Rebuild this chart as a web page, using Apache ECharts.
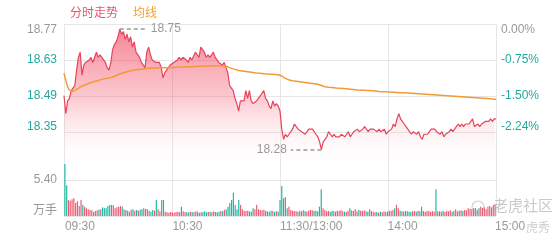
<!DOCTYPE html>
<html>
<head>
<meta charset="utf-8">
<script src="https://cdn.jsdelivr.net/npm/echarts@6/dist/echarts.min.js"></script>
<style>html,body{margin:0;padding:0;background:#fff}#c{width:560px;height:240px}</style>
</head>
<body>
<div id="c"></div>
<script>
const PRE = 18.77;
const price = [
18.49,18.42,18.47,18.48,18.51,18.52,18.53,18.59,18.64,18.66,
18.57,18.61,18.62,18.62,18.63,18.64,18.62,18.62,18.66,18.64,
18.65,18.64,18.63,18.62,18.60,18.59,18.62,18.67,18.69,18.70,
18.72,18.75,18.73,18.74,18.71,18.73,18.70,18.72,18.68,18.70,
18.66,18.66,18.64,18.62,18.62,18.60,18.66,18.68,18.65,18.63,
18.63,18.62,18.62,18.62,18.60,18.56,18.58,18.59,18.60,18.61,
18.61,18.62,18.62,18.63,18.64,18.63,18.64,18.64,18.63,18.62,
18.64,18.63,18.63,18.66,18.65,18.64,18.68,18.67,18.66,18.64,
18.65,18.64,18.64,18.66,18.64,18.63,18.62,18.62,18.61,18.62,
18.60,18.58,18.53,18.52,18.51,18.48,18.46,18.43,18.47,18.47,
18.47,18.51,18.48,18.51,18.47,18.46,18.46,18.47,18.48,18.49,
18.50,18.51,18.48,18.47,18.45,18.44,18.47,18.45,18.46,18.45,
18.43,18.36,18.32,18.34,18.33,18.34,18.34,18.36,18.38,18.38,
18.36,18.36,18.35,18.35,18.34,18.35,18.36,18.36,18.36,18.35,
18.34,18.33,18.31,18.28,18.31,18.31,18.33,18.35,18.34,18.33,
18.34,18.33,18.33,18.33,18.34,18.34,18.33,18.34,18.35,18.33,
18.34,18.35,18.35,18.36,18.35,18.35,18.36,18.37,18.36,18.35,
18.36,18.36,18.36,18.36,18.35,18.36,18.35,18.35,18.36,18.34,
18.35,18.35,18.36,18.38,18.37,18.40,18.42,18.40,18.40,18.38,
18.37,18.36,18.35,18.34,18.35,18.35,18.34,18.35,18.33,18.32,
18.34,18.34,18.34,18.35,18.36,18.36,18.36,18.35,18.35,18.34,
18.35,18.33,18.34,18.34,18.35,18.36,18.35,18.36,18.36,18.38,
18.37,18.38,18.37,18.38,18.38,18.38,18.39,18.40,18.37,18.37,
18.38,18.37,18.38,18.38,18.39,18.39,18.39,18.40,18.39,18.40,18.40
];
const avg = [
18.578,18.550,18.525,18.512,18.508,18.507,18.510,18.515,18.520,18.524,
18.528,18.531,18.533,18.536,18.539,18.542,18.544,18.546,18.548,18.550,
18.552,18.554,18.555,18.557,18.558,18.559,18.561,18.563,18.566,18.569,
18.572,18.575,18.578,18.580,18.582,18.584,18.586,18.588,18.590,18.591,
18.592,18.593,18.593,18.594,18.594,18.595,18.596,18.597,18.597,18.598,
18.598,18.598,18.599,18.599,18.599,18.599,18.599,18.599,18.600,18.600,
18.600,18.600,18.601,18.601,18.601,18.602,18.602,18.602,18.603,18.603,
18.603,18.603,18.604,18.604,18.604,18.605,18.605,18.605,18.606,18.606,
18.606,18.606,18.606,18.607,18.607,18.607,18.607,18.607,18.607,18.606,
18.605,18.603,18.600,18.597,18.595,18.593,18.591,18.589,18.588,18.587,
18.586,18.585,18.584,18.583,18.582,18.581,18.580,18.579,18.578,18.578,
18.577,18.576,18.576,18.575,18.574,18.574,18.573,18.573,18.572,18.572,
18.571,18.567,18.562,18.558,18.555,18.552,18.550,18.549,18.548,18.547,
18.546,18.545,18.544,18.543,18.542,18.541,18.540,18.539,18.538,18.537,
18.536,18.535,18.533,18.530,18.527,18.525,18.524,18.523,18.522,18.522,
18.521,18.520,18.519,18.519,18.518,18.518,18.517,18.517,18.516,18.516,
18.515,18.515,18.514,18.513,18.513,18.512,18.512,18.512,18.511,18.511,
18.510,18.510,18.509,18.509,18.508,18.507,18.507,18.506,18.506,18.506,
18.505,18.505,18.505,18.504,18.504,18.503,18.503,18.502,18.502,18.502,
18.501,18.501,18.500,18.500,18.500,18.499,18.499,18.498,18.498,18.497,
18.497,18.496,18.496,18.495,18.495,18.494,18.494,18.493,18.493,18.492,
18.492,18.491,18.491,18.490,18.490,18.489,18.489,18.488,18.488,18.487,
18.487,18.486,18.486,18.485,18.485,18.484,18.484,18.483,18.483,18.482,
18.482,18.481,18.481,18.480,18.480,18.479,18.479,18.478,18.478,18.477,18.477
];
const vol = [
7.80,4.60,2.40,2.30,2.50,2.65,1.95,2.20,1.50,2.40,
1.70,1.40,1.15,1.00,0.90,0.85,0.60,0.75,0.85,0.95,
1.00,1.30,1.20,1.15,1.50,1.65,1.65,1.60,1.15,1.30,
1.40,1.50,1.40,1.00,0.90,0.80,0.65,0.95,1.00,0.80,
0.90,0.80,0.95,1.00,1.15,1.05,1.00,0.80,0.65,0.90,
0.80,2.40,1.00,0.70,2.40,2.40,0.65,0.55,0.50,0.60,
0.55,0.50,0.60,0.65,0.55,1.40,0.70,0.60,0.55,0.50,
0.65,0.60,0.55,0.70,0.65,0.50,0.55,0.60,0.70,0.55,
0.60,0.65,0.55,0.70,0.60,0.55,0.65,0.75,0.70,0.90,
1.00,1.40,1.95,2.40,3.50,1.65,1.00,2.40,1.65,1.00,
0.80,0.75,0.80,0.70,0.65,1.15,1.00,1.70,1.00,0.90,
0.85,0.95,0.80,0.70,0.65,0.80,0.75,0.60,0.70,0.65,
2.40,4.50,2.65,2.80,1.15,1.40,0.90,0.80,0.75,0.70,
0.65,0.80,0.70,0.85,0.75,0.65,0.80,0.90,0.85,0.75,
0.80,0.70,1.40,4.00,1.15,0.90,0.70,0.75,0.65,0.80,
0.70,0.65,0.80,0.75,0.90,0.70,0.65,0.60,0.80,1.15,
0.85,0.75,1.00,0.70,0.90,0.80,0.75,0.85,0.70,0.65,
1.00,0.75,0.65,0.55,0.60,0.50,0.65,0.55,0.70,0.60,
0.65,0.80,0.75,0.90,1.15,1.70,1.15,0.80,0.70,0.65,
0.75,0.70,0.65,0.60,0.70,0.75,0.65,0.80,0.70,1.40,
0.75,0.65,0.70,0.80,0.60,0.75,0.65,4.00,0.70,0.70,
0.65,0.75,0.60,0.80,0.70,0.85,0.65,0.75,1.00,0.70,
0.80,0.85,0.75,0.90,0.85,1.15,1.10,1.00,1.15,1.20,
0.95,1.15,1.40,1.20,1.30,1.00,1.40,1.50,1.30,1.65,1.70
];
const timeTicks = ['09:30', '10:30', '11:30/13:00', '14:00', '15:00'];
const pctStep = 0.748;      // percent per price grid step
const volTicks = ['万手', '5.40'];

const pad = n => (n < 10 ? '0' : '') + n;
const cats = [];
for (let m = 570; m <= 690; m++) cats.push(pad(Math.floor(m / 60)) + ':' + pad(m % 60));
for (let m = 781; m <= 900; m++) cats.push(pad(Math.floor(m / 60)) + ':' + pad(m % 60));

const toPct = p => (p - PRE) / PRE * 100;
const pricePct = price.map(toPct);
const avgPct = avg.map(toPct);

const RED = '#ee5a72', TEAL = '#1cb8a0', LBL_TEAL = '#22a99b', GRAY = '#999', GRID = '#e6e6e6';
const volData = vol.map((v, i) => ({
  value: v,
  itemStyle: { color: price[i] >= (i ? price[i - 1] : PRE) ? RED : TEAL }
}));

const hi = Math.max(...price), lo = Math.min(...price);
const hiIdx = price.indexOf(hi), loIdx = price.indexOf(lo);

const FONT = 'Liberation Sans, Arial, Noto Sans CJK SC, sans-serif';
const near = (a, b) => Math.abs(a - b) < 1e-6;
const pMin = -4 * pctStep, pMax = 0;

const rich = {
  t: { color: GRAY, fontSize: 12, fontFamily: FONT, padding: [11, 0, 0, 0] },
  tg: { color: GRAY, fontSize: 12, fontFamily: FONT },
  n: { color: LBL_TEAL, fontSize: 12, fontFamily: FONT },
  b: { color: LBL_TEAL, fontSize: 12, fontFamily: FONT, padding: [0, 0, 11, 0] },
  bg: { color: GRAY, fontSize: 12, fontFamily: FONT, padding: [0, 0, 11, 0] }
};
function wrapLabel(v, txt) {
  if (near(v, pMax)) return '{t|' + txt + '}';
  if (near(v, pMin)) return '';
  if (near(v, pMin + pctStep)) return '{b|' + txt + '}';
  return '{n|' + txt + '}';
}

const chart = echarts.init(document.getElementById('c'), null, { renderer: 'canvas' });
chart.setOption({
  animation: false,
  textStyle: { fontFamily: FONT },
  legend: {
    left: 59, top: 3, itemWidth: 0, itemHeight: 0, itemGap: 9,
    textStyle: { fontSize: 12, fontFamily: FONT },
    selectedMode: false,
    data: [
      { name: '分时走势', textStyle: { color: '#e8546a' } },
      { name: '均线', textStyle: { color: '#f0a030' } }
    ]
  },
  grid: [
    { left: 64, right: 64, top: 24, height: 144 },
    { left: 64, right: 64, top: 144, height: 72 }
  ],
  xAxis: [
    {
      type: 'category', gridIndex: 0, data: cats, boundaryGap: false,
      axisLine: { show: false }, axisTick: { show: false }, axisLabel: { show: false },
      splitLine: { show: true, interval: i => i % 60 === 0, lineStyle: { color: GRID, width: 1 } }
    },
    {
      type: 'category', gridIndex: 1, data: cats, boundaryGap: true,
      axisLine: { show: false }, axisTick: { show: false },
      axisLabel: {
        show: true, interval: i => i % 60 === 0, align: 'left', margin: 5,
        color: GRAY, fontSize: 12, fontFamily: FONT,
        formatter: (val, i) => timeTicks[Math.round(i / 60)] || ''
      },
      splitLine: { show: false }
    },
    {
      type: 'category', gridIndex: 1, data: cats, boundaryGap: false, show: true,
      axisLine: { show: false }, axisTick: { show: false }, axisLabel: { show: false },
      splitLine: { show: true, interval: i => i % 60 === 0, lineStyle: { color: GRID, width: 1 } }
    }
  ],
  yAxis: [
    {
      type: 'value', gridIndex: 0, min: pMin, max: pMax, interval: pctStep, position: 'left',
      axisLine: { show: false }, axisTick: { show: false },
      axisLabel: {
        margin: 7, fontSize: 12, rich,
        formatter: v => wrapLabel(v, (PRE * (1 + v / 100)).toFixed(2))
      },
      splitLine: { show: true, lineStyle: { color: ['rgba(0,0,0,0)', GRID, GRID, GRID, GRID], width: 1 } }
    },
    {
      type: 'value', gridIndex: 0, min: pMin, max: pMax, interval: pctStep, position: 'right',
      axisLine: { show: false }, axisTick: { show: false },
      axisLabel: {
        margin: 5, fontSize: 12, rich,
        formatter: v => {
          const t = (near(v, 0) ? 0 : v).toFixed(2) + '%';
          return wrapLabel(v, t);
        }
      },
      splitLine: { show: false }
    },
    {
      type: 'value', gridIndex: 1, min: 0, max: 10.8, interval: 5.4,
      axisLine: { show: false }, axisTick: { show: false },
      axisLabel: {
        margin: 7, fontSize: 12, rich,
        formatter: v => near(v, 0) ? '{bg|' + volTicks[0] + '}' : (near(v, 5.4) ? '{tg|' + volTicks[1] + '}' : '')
      },
      splitLine: { show: true, lineStyle: { color: [GRID, GRID, 'rgba(0,0,0,0)'], width: 1 } }
    }
  ],
  series: [
    {
      name: '分时走势', type: 'line', xAxisIndex: 0, yAxisIndex: 0,
      data: pricePct, symbol: 'none', smooth: false,
      lineStyle: { color: '#e8435c', width: 1.2 },
      itemStyle: { color: '#e8546a' },
      areaStyle: {
        origin: 'start',
        color: new echarts.graphic.LinearGradient(0, 0, 0, 1, [
          { offset: 0, color: 'rgba(240,58,84,0.88)' },
          { offset: 0.5, color: 'rgba(244,96,116,0.48)' },
          { offset: 1, color: 'rgba(255,255,255,0)' }
        ])
      },
      markLine: {
        silent: true, animation: false, symbol: ['none', 'none'],
        lineStyle: { color: '#999', type: [4, 3], width: 1.5 },
        label: { show: true, position: 'end', color: GRAY, fontSize: 12, fontFamily: FONT, distance: 4 },
        data: [
          [{ coord: [hiIdx, pricePct[hiIdx]], label: { formatter: hi.toFixed(2) } }, { coord: [hiIdx + 15, pricePct[hiIdx]] }],
          [{ coord: [loIdx, pricePct[loIdx]], label: { formatter: lo.toFixed(2) } }, { coord: [loIdx - 17, pricePct[loIdx]] }]
        ]
      },
      z: 3
    },
    {
      name: '均线', type: 'line', xAxisIndex: 0, yAxisIndex: 0,
      data: avgPct, symbol: 'none', smooth: false,
      lineStyle: { color: '#f29a38', width: 1.5 },
      itemStyle: { color: '#f0a030' },
      z: 4
    },
    {
      name: '成交量', type: 'bar', xAxisIndex: 1, yAxisIndex: 2,
      data: volData, barCategoryGap: '35%'
    }
  ],
  graphic: [
    { type: 'circle', shape: { cx: 478, cy: 207, r: 6 }, style: { fill: 'none', stroke: 'rgba(170,170,170,0.55)', lineWidth: 1.2 }, z: 100 },
    { type: 'text', left: 493, top: 198, style: { text: '老虎社区', fontSize: 15, fontFamily: 'Noto Sans CJK SC', fill: 'rgba(165,165,165,0.6)' }, z: 100 },
    { type: 'text', left: 526, top: 221, style: { text: '虎秀', fontSize: 12, fontFamily: 'Noto Sans CJK SC', fill: 'rgba(165,165,165,0.55)' }, z: 100 }
  ]
});
</script>
</body>
</html>
